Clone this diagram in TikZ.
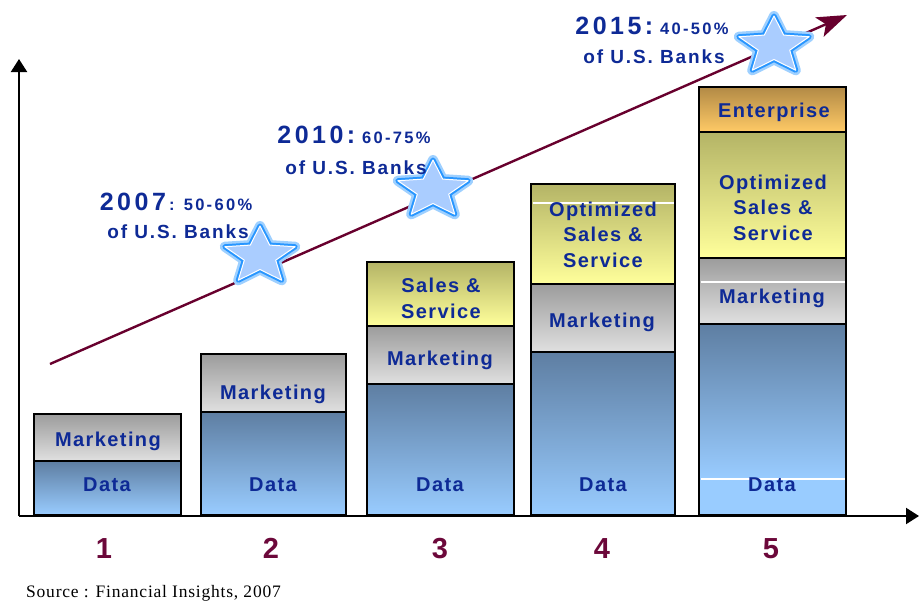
\documentclass[tikz,border=0pt]{standalone}
\usepackage{fontspec}
\setmainfont{Liberation Sans}
\newfontfamily\srcfont{Liberation Serif}
\usetikzlibrary{arrows.meta}

\definecolor{lblblue}{RGB}{14,42,150}
\definecolor{numred}{RGB}{108,8,58}
\definecolor{trendred}{RGB}{104,0,46}
\definecolor{datatop}{RGB}{94,126,162}
\definecolor{databot}{RGB}{153,204,255}
\definecolor{mkttop}{RGB}{156,156,156}
\definecolor{mktbot}{RGB}{224,224,224}
\definecolor{saltop}{RGB}{180,180,102}
\definecolor{salbot}{RGB}{255,255,155}
\definecolor{enttop}{RGB}{178,138,70}
\definecolor{entbot}{RGB}{255,202,102}
\definecolor{starglow}{RGB}{40,150,255}
\definecolor{starfill}{RGB}{170,205,255}

\tikzset{
  seg/.style={draw=black, line width=1.3pt},
  datafill/.style={top color=datatop, bottom color=databot},
  mktfill/.style={top color=mkttop, bottom color=mktbot},
  salfill/.style={top color=saltop, bottom color=salbot},
  entfill/.style={top color=enttop, bottom color=entbot},
  lbl/.style={font=\fontsize{20}{25.5}\selectfont\bfseries\addfontfeature{LetterSpace=7},
    text=lblblue, inner sep=0pt, anchor=base, align=center},
  num/.style={font=\fontsize{29}{29}\selectfont\bfseries, text=numred, inner sep=0pt, anchor=base},
  banks/.style={font=\fontsize{19}{19}\selectfont\bfseries\addfontfeature{LetterSpace=10},
    text=lblblue, inner sep=0pt, anchor=base},
  axis/.style={line width=2pt, -{Triangle[length=13pt,width=16pt]}},
  trend/.style={draw=trendred, line width=2.4pt,
    -{Stealth[length=30pt,width=21pt,inset=7pt]}},
  gap/.style={draw=white, line width=1.2pt},
}

% large year and small share figures of a milestone label
\newcommand\yr[1]{{\fontsize{25}{25}\selectfont\addfontfeature{LetterSpace=14}#1}}
\newcommand\share[1]{{\fontsize{16.5}{16.5}\selectfont\addfontfeature{LetterSpace=14}#1}}

% five-pointed star, slightly wider than tall
\def\starshape{(-90:37 and 30) -- (-54:16.5 and 13.5) -- (-18:37 and 30) -- (18:16.5 and 13.5)
  -- (54:37 and 30) -- (90:16.5 and 13.5) -- (126:37 and 30) -- (162:16.5 and 13.5)
  -- (198:37 and 30) -- (234:16.5 and 13.5) -- cycle}
\newcommand\bankstar[1]{%
  \begin{scope}[shift={#1}]
    \draw[starglow!45, line width=10pt, line join=round] \starshape;
    \draw[starglow, line width=5pt, line join=round] \starshape;
    \draw[fill=starfill, draw=white, line width=1pt, line join=round] \starshape;
  \end{scope}}

\begin{document}
\begin{tikzpicture}[x=1pt, y=-1pt]
\useasboundingbox (0,0) rectangle (920,603);
\fill[white] (0,0) rectangle (920,603);

% stacked bars: segments from bottom (y=515) upward
% bar 1
\path[seg, datafill] (34,461) rectangle (181,515);
\path[seg, mktfill]  (34,414) rectangle (181,461);
% bar 2
\path[seg, datafill] (201,412) rectangle (346,515);
\path[seg, mktfill]  (201,354) rectangle (346,412);
% bar 3
\path[seg, datafill] (367,384) rectangle (514,515);
\path[seg, mktfill]  (367,326) rectangle (514,384);
\path[seg, salfill]  (367,262) rectangle (514,326);
% bar 4
\path[seg, datafill] (531,352) rectangle (675,515);
\path[seg, mktfill]  (531,284) rectangle (675,352);
\path[seg, salfill]  (531,184) rectangle (675,284);
\draw[gap] (532.5,203) -- (673.5,203);
% bar 5
\path[datafill] (699,324) rectangle (846,479);
\fill[databot] (699,479) rectangle (846,515);
\draw[seg] (699,324) rectangle (846,515);
\draw[gap] (700.5,479) -- (844.5,479);
\path[seg, mktfill]  (699,258) rectangle (846,324);
\draw[gap] (700.5,282) -- (844.5,282);
\path[seg, salfill]  (699,132) rectangle (846,258);
\path[seg, entfill]  (699,87)  rectangle (846,132);

% segment labels (anchored at the baseline of the last line)
\node[lbl] (b1data) at (107,491) {Data};
\node[lbl] (b1mkt)  at (108,446) {Marketing};
\node[lbl] (b2data) at (273,491) {Data};
\node[lbl] (b2mkt)  at (273,399) {Marketing};
\node[lbl] (b3data) at (440,491) {Data};
\node[lbl] (b3mkt)  at (440,365) {Marketing};
\node[lbl] (b3sal)  at (441,318) {Sales \&\\Service};
\node[lbl] (b4data) at (603,491) {Data};
\node[lbl] (b4mkt)  at (602,327) {Marketing};
\node[lbl] (b4sal)  at (603,267) {Optimized\\Sales \&\\Service};
\node[lbl] (b5data) at (772,491) {Data};
\node[lbl] (b5mkt)  at (772,303) {Marketing};
\node[lbl] (b5sal)  at (773,240) {Optimized\\Sales \&\\Service};
\node[lbl] (b5ent)  at (774,117) {Enterprise};

% axes
\coordinate (origin) at (19,516);
\coordinate (ytip) at (19,59);
\coordinate (xtip) at (919,516);
\draw[axis] (origin) -- (ytip);
\draw[axis] (origin) -- (xtip);

% stage numbers
\node[num] (n1) at (104,558) {1};
\node[num] (n2) at (271,558) {2};
\node[num] (n3) at (440,558) {3};
\node[num] (n4) at (602,558) {4};
\node[num] (n5) at (771,558) {5};

% adoption trend
\coordinate (tstart) at (50,364);
\coordinate (tend) at (847,15);
\draw[trend] (tstart) -- (tend);

% milestones
\bankstar{(260,256)}
\bankstar{(433,190)}
\bankstar{(774,46)}

\node[banks] (y07a) at (176,210) {\yr{2007}\,\share{: 50-60\%}};
\node[banks] (y07b) at (178,238) {of U.S. Banks};
\node[banks] (y10a) at (354,143) {\yr{2010:}\share{\ 60-75\%}};
\node[banks] (y10b) at (356,174) {of U.S. Banks};
\node[banks] (y15a) at (652,34) {\yr{2015:}\share{\ 40-50\%}};
\node[banks] (y15b) at (654,63) {of U.S. Banks};

% source line
\node[font=\srcfont\fontsize{17.5}{17.5}\selectfont\addfontfeature{LetterSpace=4.5}, inner sep=0pt, anchor=base west] (src)
  at (26,597) {Source : Financial Insights, 2007};
\end{tikzpicture}
\end{document}
